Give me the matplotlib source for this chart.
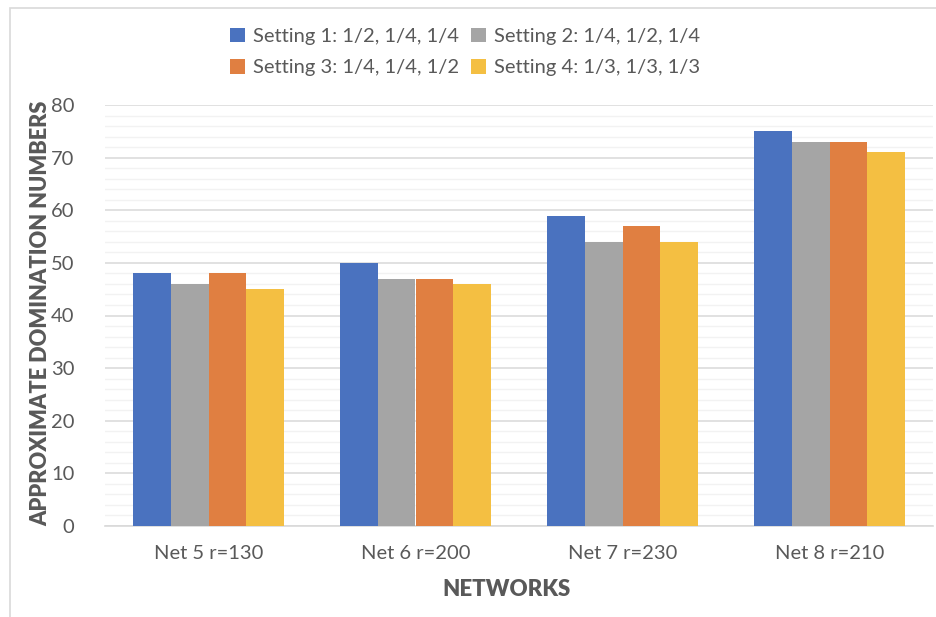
import numpy as np
import matplotlib
matplotlib.use('Agg')
import matplotlib.pyplot as plt
from matplotlib.patches import Rectangle
from matplotlib.ticker import MultipleLocator

# data
networks = ['Net 5 r=130', 'Net 6 r=200', 'Net 7 r=230', 'Net 8 r=210']
settings = ['Setting 1: 1/2, 1/4, 1/4', 'Setting 2: 1/4, 1/2, 1/4',
            'Setting 3: 1/4, 1/4, 1/2', 'Setting 4: 1/3, 1/3, 1/3']
setting1 = [48, 50, 59, 75]
setting2 = [46, 47, 54, 73]
setting3 = [48, 47, 57, 73]
setting4 = [45, 46, 54, 71]

def main():
    TXT = '#595959'
    FONT = ['Lato', 'DejaVu Sans']
    colors = ['#4A72BF', '#A5A5A5', '#E07F41', '#F4BF42']
    series = [setting1, setting2, setting3, setting4]

    plt.rcParams['font.family'] = FONT
    fig = plt.figure(figsize=(9.36, 6.17), dpi=100)
    fig.patches.append(Rectangle((10/936, -0.1), 1.2, 1 - 8/617 + 0.1,
                                 transform=fig.transFigure, fill=False,
                                 edgecolor='#D9D9D9', lw=1.2))
    ax = fig.add_axes([105/936, 1 - 526/617, 828/936, 421/617])

    x = np.arange(len(networks))
    w = 0.1825
    bars = []
    for i, (vals, c) in enumerate(zip(series, colors)):
        b = ax.bar(x + (i - 1.5)*w, vals, w, color=c, zorder=3, label=settings[i])
        bars.append(b)

    ax.set_xlim(-0.5, len(networks) - 0.5)
    ax.set_ylim(0, 80)
    ax.yaxis.set_major_locator(MultipleLocator(10))
    ax.yaxis.set_minor_locator(MultipleLocator(2))
    ax.grid(which='major', axis='y', color='#D9D9D9', lw=1.1, zorder=0)
    ax.grid(which='minor', axis='y', color='#F2F2F2', lw=1.0, zorder=0)
    for s in ['top', 'right', 'left']:
        ax.spines[s].set_visible(False)
    ax.spines['bottom'].set_color('#D9D9D9')
    ax.spines['bottom'].set_linewidth(1.2)
    ax.tick_params(which='both', length=0)
    ax.tick_params(axis='y', labelsize=14.5, labelcolor=TXT, pad=22)
    ax.tick_params(axis='x', labelsize=14.5, labelcolor=TXT, pad=14)
    ax.set_xticks(x)
    ax.set_xticklabels(networks)

    ax.set_ylabel('APPROXIMATE DOMINATION NUMBERS', fontsize=15.7,
                  fontweight='heavy', color=TXT)
    ax.yaxis.set_label_coords(-54/828, (526 - 313)/421)
    ax.set_xlabel('NETWORKS', fontsize=16, fontweight='heavy', color=TXT)
    ax.xaxis.set_label_coords((506 - 105)/828, -(579 - 526)/421)

    # legend is filled column by column, so reorder for row-wise layout
    order = [0, 2, 1, 3]
    fig.legend(handles=[bars[i] for i in order],
               labels=[settings[i] for i in order], ncol=2, loc='center',
               bbox_to_anchor=(465/936, 1 - 52/617), frameon=False,
               fontsize=14.5, labelcolor=TXT, handlelength=0.75,
               handleheight=0.75, handletextpad=0.4, columnspacing=0.6,
               labelspacing=0.7)

    fig.savefig('out.png', dpi=100)

if __name__ == "__main__":
    main()
